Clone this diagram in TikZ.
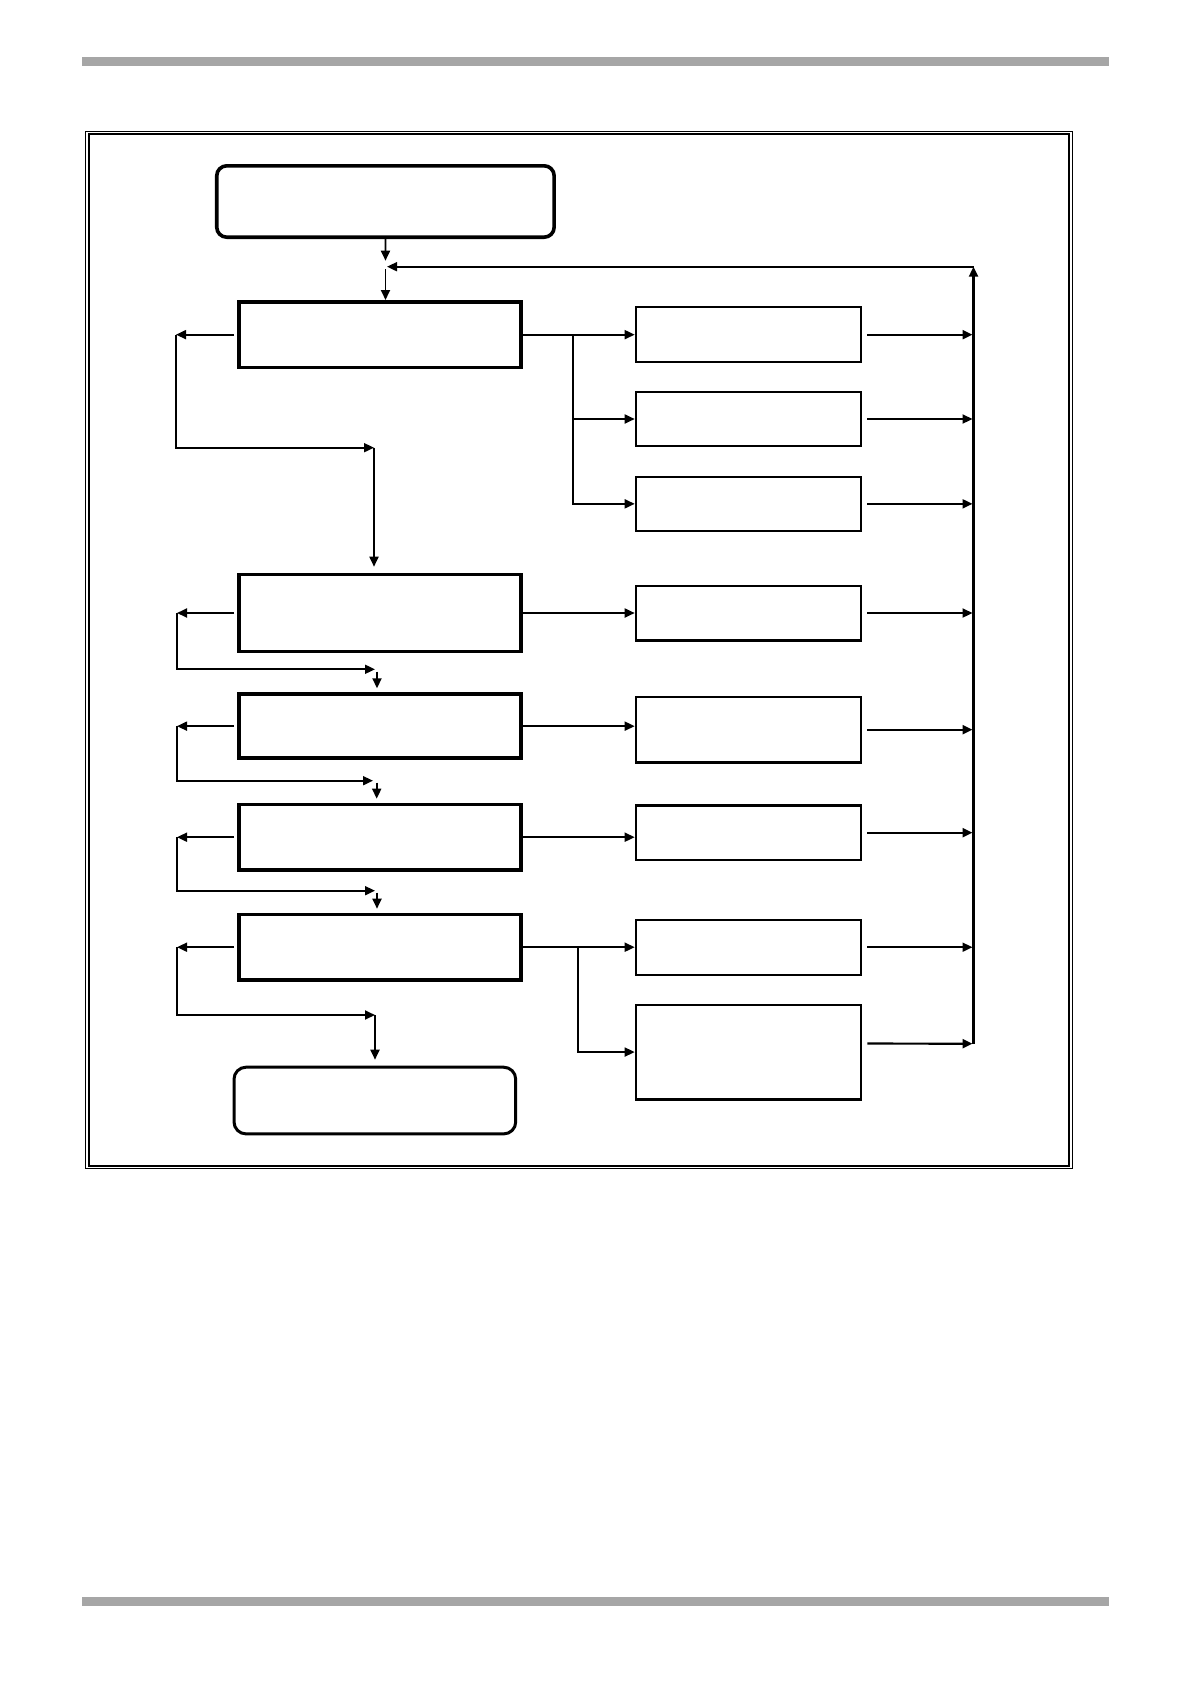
\documentclass[tikz,border=0pt]{standalone}
\usepackage{tikz}
\usetikzlibrary{arrows.meta, positioning}
\definecolor{bargray}{HTML}{A6A6A6}

\begin{document}
\begin{tikzpicture}[x=1pt, y=-1pt,
    term/.style={draw, line width=3.6pt, rounded corners=10pt, minimum width=337.4pt, minimum height=71.4pt},
    proc/.style={draw, line width=3.6pt, minimum width=282.1pt, minimum height=65.7pt},
    act/.style={draw, line width=2.2pt, minimum width=225.4pt, minimum height=54.8pt},
    link/.style={line width=1.8pt, -{Triangle[length=10pt, width=9pt]}},
    bus/.style={line width=2.2pt, -{Triangle[length=10pt, width=9pt]}}]

\useasboundingbox (0,0) rectangle (1190,1684);

% Page rules
\fill[bargray] (82,57.3) rectangle (1109,65.7);
\fill[bargray] (82,1597) rectangle (1109,1605.7);

% Double frame
\draw[line width=1.1pt] (85.8,131.2) rectangle (1072.3,1168.8);
\draw[line width=2pt] (89.2,134.3) rectangle (1069.3,1165.8);

% Left column: start, 5 stages, end
\node[proc] (b1) at (379.85,334.65) {};
\node[term, above=61pt of b1, xshift=5.6pt] (start) {};
\node[proc, below=203.4pt of b1, minimum height=77pt] (b2) {};
\node[proc, below=39pt of b2, minimum height=64.1pt] (b3) {};
\node[proc, below=42.7pt of b3, minimum height=65.4pt] (b4) {};
\node[proc, below=41pt of b4, minimum height=65.4pt] (b5) {};
\node[term, below=84pt of b5, xshift=-5pt, line width=3pt, rounded corners=12pt, minimum width=281.7pt, minimum height=66.7pt] (finish) {};

% Right column: 8 actions
\node[act, right=112pt of b1] (r1) {};
\node[act, below=27.7pt of r1, minimum height=54.1pt] (r2) {};
\node[act, below=28.7pt of r2, minimum height=53.8pt] (r3) {};
\node[act, right=112pt of b2] (r4) {};
\node[act, right=112pt of b3, yshift=-3.5pt, minimum height=65.8pt] (r5) {};
\node[act, right=112pt of b4, yshift=4.5pt, minimum height=54.5pt] (r6) {};
\node[act, right=112pt of b5, minimum height=55.1pt] (r7) {};
\node[act, below=27.7pt of r7, minimum height=94.8pt] (r8) {};

% Feedback bus back to the top
\coordinate (fbt) at (973.5,266.7);
\coordinate (fbb) at (973.5,1043.7);
\coordinate (j) at (385.5,266.7);
\draw[bus] (fbb) -- (fbt);
\draw[link] (fbt) -- ([xshift=1.5pt]j);
\draw[link] (start) -- ([yshift=6pt]j);
\draw[link] ([yshift=-2.3pt]j) -- (j |- b1.north);

% Stages to actions
\coordinate (s1) at ([xshift=50pt]b1.east);
\coordinate (s5) at ([xshift=55.6pt]b5.east);
\draw[link] (b1.east) -- (b1.east -| r1.west);
\draw[link] (s1) |- (r2.west);
\draw[link] (s1) |- (r3.west);
\draw[link] (b2.east) -- (b2.east -| r4.west);
\draw[link] (b3.east) -- (b3.east -| r5.west);
\draw[link] (b4.east) -- (b4.east -| r6.west);
\draw[link] (b5.east) -- (b5.east -| r7.west);
\draw[link] (s5) |- (r8.west);

% Actions to bus
\draw[bus, shorten >=1pt] ([xshift=5pt]r1.east) -- (r1.east -| fbt);
\draw[bus, shorten >=1pt] ([xshift=5pt]r2.east) -- (r2.east -| fbt);
\draw[bus, shorten >=1pt] ([xshift=5pt]r3.east) -- (r3.east -| fbt);
\draw[bus, shorten >=1pt] ([xshift=5pt]r4.east) -- (r4.east -| fbt);
\draw[bus, shorten >=1pt] ([xshift=5pt]r5.east) -- (r5.east -| fbt);
\draw[bus, shorten >=1pt] ([xshift=5pt]r6.east) -- (r6.east -| fbt);
\draw[link, shorten >=1pt] ([xshift=5pt]r7.east) -- (r7.east -| fbt);
\draw[bus, shorten >=1pt] ([xshift=5pt, yshift=8.5pt]r8.east) -- (fbb);

% Loop-backs on the left
\coordinate (l1) at ([xshift=-61pt]b1.west);
\coordinate (l2) at ([xshift=-60pt]b2.west);
\coordinate (l3) at ([xshift=-60pt]b3.west);
\coordinate (l4) at ([xshift=-60pt]b4.west);
\coordinate (l5) at ([xshift=-60pt]b5.west);
\coordinate (m1) at (374,447.7);
\coordinate (m2) at (375,669.3);
\coordinate (m3) at (373,780.7);
\coordinate (m4) at (375,890.7);
\coordinate (m5) at (375,1015);
\draw[link] ([xshift=-3pt]b1.west) -- (l1);
\draw[link] (l1) |- (m1);
\draw[link] (m1) -- ([yshift=6pt]m1 |- b2.north);
\draw[link] ([xshift=-3pt]b2.west) -- (l2);
\draw[link] (l2) |- (m2);
\draw[link] ([shift={(2,2.4)}]m2) -- ([xshift=2pt, yshift=4pt]m2 |- b3.north);
\draw[link] ([xshift=-3pt]b3.west) -- (l3);
\draw[link] (l3) |- (m3);
\draw[link] ([shift={(3.7,2)}]m3) -- ([xshift=3.7pt, yshift=4pt]m3 |- b4.north);
\draw[link] ([xshift=-3pt]b4.west) -- (l4);
\draw[link] (l4) |- (m4);
\draw[link] ([shift={(2,2)}]m4) -- ([xshift=2pt, yshift=4pt]m4 |- b5.north);
\draw[link] ([xshift=-3pt]b5.west) -- (l5);
\draw[link] (l5) |- (m5);
\draw[link] (m5) -- ([yshift=6pt]m5 |- finish.north);

\end{tikzpicture}
\end{document}
